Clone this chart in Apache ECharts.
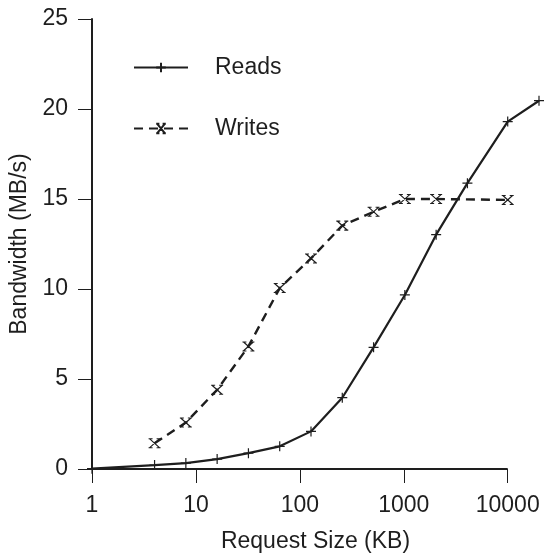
<!DOCTYPE html>
<html>
<head>
<meta charset="utf-8">
<script src="https://cdn.jsdelivr.net/npm/echarts@6/dist/echarts.min.js"></script>
<style>
  html, body { margin: 0; padding: 0; background: #ffffff; }
  #chart { width: 544px; height: 558px; }
</style>
</head>
<body>
<div id="chart"></div>
<script>
// request sizes (KB) and bandwidth (MB/s)
var readSizes = [1, 4, 8, 16, 32, 64, 128, 256, 512, 1024, 2048, 4096, 10000, 20000];
var readValues = [0.02, 0.22, 0.33, 0.55, 0.88, 1.26, 2.09, 3.96, 6.76, 9.67, 13.02, 15.88, 19.3, 20.46];
var writeSizes = [4, 8, 16, 32, 64, 128, 256, 512, 1024, 2048, 10000];
var writeValues = [1.43, 2.58, 4.4, 6.81, 10.05, 11.7, 13.52, 14.29, 15.0, 15.0, 14.95];
var xTicks = [1, 10, 100, 1000, 10000];
var yTicks = [0, 5, 10, 15, 20, 25];

var ink = '#1e1e1e';
// marker shapes, stroked
var plusMark = 'path://M5,0V10M0,5H10';
var crossMark = 'path://M1,0L11,9M11,0L1,9M0,0H4M8,0H12M0,9H4M8,9H12';

function pairs(xs, ys) {
  return xs.map(function (x, i) { return [x, ys[i]]; });
}

var chart = echarts.init(document.getElementById('chart'), null, { renderer: 'canvas' });

var option = {
  backgroundColor: '#ffffff',
  animation: false,
  textStyle: { fontFamily: 'Liberation Sans, Arial, sans-serif' },
  // the plot runs past the last tick so the 20000 KB point fits
  grid: { left: 92, right: 5, top: 19, bottom: 85 },
  legend: {
    orient: 'vertical',
    left: 128,
    top: 51,
    itemWidth: 54,
    itemHeight: 12,
    itemGap: 38,
    textStyle: { fontSize: 23, color: ink, padding: [0, 0, 0, 22] },
    data: ['Reads', 'Writes']
  },
  xAxis: {
    type: 'log',
    logBase: 10,
    min: 1,
    max: 20000,
    name: 'Request Size (KB)',
    nameLocation: 'middle',
    nameGap: 61,
    nameTextStyle: { fontSize: 23, color: ink },
    axisLine: { show: false },
    axisTick: { length: 14, customValues: xTicks, lineStyle: { color: ink, width: 1 } },
    minorTick: { show: false },
    axisLabel: {
      fontSize: 23, color: ink, margin: 25,
      customValues: xTicks,
      formatter: function (v) { return String(Math.round(v)); }
    },
    splitLine: { show: false }
  },
  yAxis: {
    type: 'value',
    min: yTicks[0],
    max: yTicks[yTicks.length - 1],
    interval: 5,
    name: 'Bandwidth (MB/s)',
    nameLocation: 'middle',
    nameGap: 60,
    nameTextStyle: { fontSize: 23, color: ink },
    axisLine: { show: true, lineStyle: { color: ink, width: 2 } },
    axisTick: { show: true, length: 14, lineStyle: { color: ink, width: 1 } },
    axisLabel: { fontSize: 23, color: ink, margin: 24 },
    splitLine: { show: false }
  },
  series: [
    {
      name: 'Reads',
      type: 'line',
      data: pairs(readSizes, readValues),
      symbol: plusMark,
      symbolSize: [10, 10],
      showAllSymbol: true,
      lineStyle: { color: ink, width: 2.2 },
      itemStyle: { color: 'rgba(0,0,0,0)', borderColor: ink, borderWidth: 1.2 },
      // x axis line only runs to the 10000 tick
      markLine: {
        silent: true,
        symbol: 'none',
        label: { show: false },
        lineStyle: { color: ink, width: 2, type: 'solid' },
        data: [[{ coord: [xTicks[0], 0] }, { coord: [xTicks[xTicks.length - 1], 0] }]]
      }
    },
    {
      name: 'Writes',
      type: 'line',
      data: pairs(writeSizes, writeValues),
      symbol: crossMark,
      symbolSize: [12, 9],
      showAllSymbol: true,
      lineStyle: { color: ink, width: 2.4, type: [9, 6] },
      itemStyle: { color: 'rgba(0,0,0,0)', borderColor: ink, borderWidth: 1.2 }
    }
  ]
};

chart.setOption(option);
</script>
</body>
</html>
